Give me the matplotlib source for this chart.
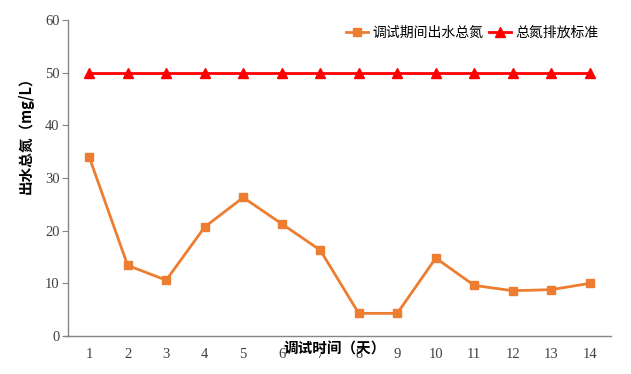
import matplotlib
matplotlib.use('Agg')
import matplotlib.pyplot as plt

plt.rcParams['font.family'] = ['Noto Sans CJK SC', 'DejaVu Sans']

days = list(range(1, 15))
tn_out = [34.0, 13.4, 10.6, 20.7, 26.3, 21.3, 16.3, 4.3, 4.3, 14.8, 9.6, 8.6, 8.8, 10.0]
tn_std = [50] * 14

W, H = 631, 374
fig = plt.figure(figsize=(W / 100, H / 100), dpi=100)
ax = fig.add_axes([68 / W, 1 - 336 / H, (611 - 68) / W, (336 - 20) / H])

ax.plot(days, tn_out, color='#ED7D31', lw=2, marker='s', ms=6, label='调试期间出水总氮')
ax.plot(days, tn_std, color='#FF0000', lw=2, marker='^', ms=7, label='总氮排放标准')

ax.set_xlim(0.45, 14.55)
ax.set_ylim(0, 60)
ax.set_yticks(range(0, 61, 10))
ax.set_xticks(days)

for s in ['top', 'right']:
    ax.spines[s].set_visible(False)
for s in ['left', 'bottom']:
    ax.spines[s].set_color('#868686')
    ax.spines[s].set_linewidth(1)
# x axis line sticks out a little to the left of the y axis
ax.plot([-4 / 543, 0], [0, 0], transform=ax.transAxes, color='#868686', lw=1, clip_on=False)

ax.tick_params(axis='y', direction='out', length=4, color='#868686', labelsize=10.5, pad=2)
ax.tick_params(axis='x', length=0, labelsize=10.5, pad=9)
for lab in ax.get_xticklabels() + ax.get_yticklabels():
    lab.set_family(['Liberation Serif', 'DejaVu Serif'])
    lab.set_color('#404040')

fig.text(335 / W, 1 - 349 / H, '调试时间（天）', ha='center', va='center',
         fontsize=10.5, fontweight='bold')
fig.text(26 / W, 1 - 132 / H, '出水总氮（mg/L）', ha='center', va='center',
         rotation=90, fontsize=10.5, fontweight='bold')

ax.legend(loc='upper right', bbox_to_anchor=(1.0, 1.02), ncol=2, frameon=False,
          fontsize=10, handlelength=1.6, handletextpad=0.3, columnspacing=0.4)

fig.savefig('out.png', dpi=100)
